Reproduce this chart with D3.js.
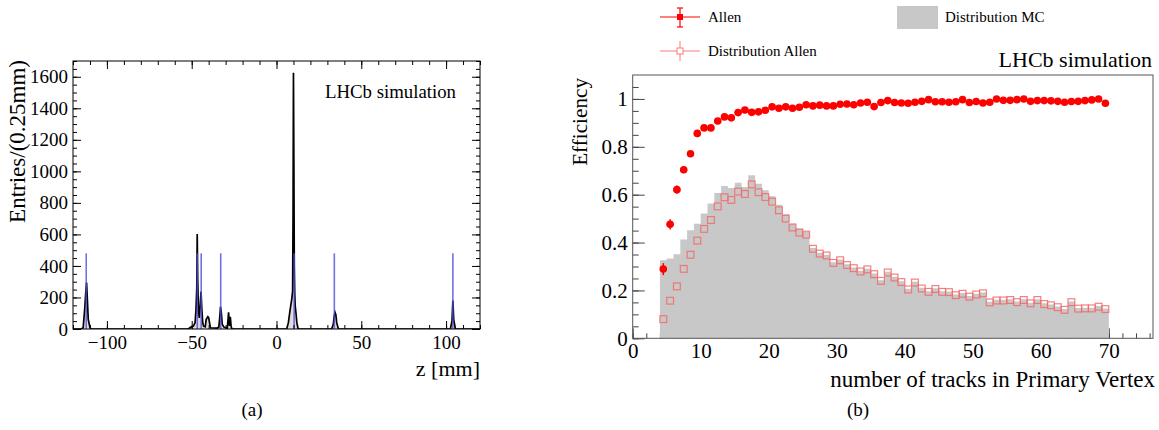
<!DOCTYPE html>
<html>
<head>
<meta charset="utf-8">
<script src="https://cdn.jsdelivr.net/npm/d3@7"></script>
<style>
  body { margin: 0; background: #fff; }
  svg text { font-family: "Liberation Serif", "Times New Roman", serif; fill: #000; }
  .axis path.domain { display: none; }
</style>
</head>
<body>
<svg id="fig" width="1159" height="430"></svg>
<script>
// ---------- panel (a): z distribution of hits ----------
// knots of the black histogram outline (z in mm, entries per 0.25 mm)
const zKnots = [-120, -115, -114, -113, -112.5, -112, -111.5, -111, -110, -109.5,
  -52, -50.5, -49, -48, -47.5, -47, -46.75, -46.5, -46, -45.5, -45, -44.5, -44, -43.5, -43,
  -42, -41.5, -40.5, -40, -39.5, -39, -35, -34, -33.5, -33, -32.5, -32, -31, -29, -28.25, -27.75,
  -27.25, -26.75, -26.25, -25.5,
  6, 7, 8, 9, 9.5, 9.75, 10, 10.25, 10.5, 10.75, 11, 11.5, 12, 12.75,
  32.5, 33.5, 34, 34.5, 35, 35.5, 36.5,
  102.5, 103.5, 104, 104.5, 105.5, 120];
const nKnots = [0, 0, 8, 140, 230, 295, 180, 60, 10, 0,
  0, 12, 18, 40, 120, 260, 602, 330, 110, 70, 150, 237, 120, 40, 18,
  14, 60, 78, 72, 40, 8, 6, 12, 70, 140, 100, 30, 12, 5, 106, 20,
  78, 15, 0, 0,
  0, 40, 120, 190, 240, 700, 1625, 1050, 400, 230, 150, 100, 40, 0,
  0, 30, 80, 105, 90, 40, 0,
  0, 50, 180, 60, 0, 0];
// reconstructed vertex positions (blue markers)
const vertexZ = [-112.2, -46.7, -44.4, -32.9, 10.4, 34.1, 104.0];
const vertexH = 480;
const zTicks = [-100, -50, 0, 50, 100];
const entTicks = [0, 200, 400, 600, 800, 1000, 1200, 1400, 1600];

// ---------- panel (b): efficiency vs number of tracks ----------
const binLow = d3.range(4, 70);   // bins of width 1, from 4 to 70
const effAllen = [0.289, 0.476, 0.621, 0.704, 0.771, 0.856, 0.879, 0.879, 0.908, 0.925,
  0.921, 0.943, 0.954, 0.944, 0.946, 0.953, 0.967, 0.961, 0.967, 0.961,
  0.965, 0.976, 0.971, 0.974, 0.971, 0.971, 0.978, 0.979, 0.976, 0.983,
  0.986, 0.968, 0.985, 0.993, 0.985, 0.983, 0.982, 0.986, 0.990, 0.997,
  0.988, 0.988, 0.986, 0.988, 0.997, 0.985, 0.989, 0.983, 0.986, 1.000,
  0.994, 0.994, 0.997, 1.000, 0.990, 0.993, 0.993, 0.992, 0.990, 0.986,
  0.989, 0.990, 0.993, 0.996, 1.000, 0.982];
// visible vertical errors of the first bins (later ones hide behind the marker)
const errAllen = [0.025, 0.021, 0.017, 0.014, 0.012, 0.010, 0.008, 0.007, 0.006, 0.006];
const distAllen = [0.080, 0.157, 0.217, 0.290, 0.349, 0.408, 0.457, 0.494, 0.551, 0.589,
  0.578, 0.613, 0.603, 0.643, 0.610, 0.590, 0.571, 0.535, 0.500, 0.463,
  0.442, 0.433, 0.374, 0.354, 0.346, 0.315, 0.326, 0.306, 0.293, 0.279,
  0.288, 0.268, 0.240, 0.275, 0.254, 0.235, 0.204, 0.233, 0.208, 0.194,
  0.206, 0.194, 0.193, 0.180, 0.186, 0.174, 0.183, 0.188, 0.150, 0.158,
  0.158, 0.160, 0.151, 0.160, 0.146, 0.160, 0.143, 0.138, 0.130, 0.119,
  0.151, 0.124, 0.125, 0.125, 0.132, 0.122];
const distMC = [0.326, 0.333, 0.351, 0.413, 0.451, 0.479, 0.521, 0.563, 0.607, 0.636,
  0.628, 0.650, 0.632, 0.681, 0.646, 0.618, 0.593, 0.558, 0.518, 0.479,
  0.458, 0.444, 0.377, 0.357, 0.349, 0.318, 0.329, 0.309, 0.296, 0.282,
  0.291, 0.271, 0.243, 0.278, 0.257, 0.238, 0.207, 0.236, 0.211, 0.197,
  0.209, 0.197, 0.196, 0.183, 0.189, 0.177, 0.186, 0.191, 0.153, 0.161,
  0.161, 0.163, 0.154, 0.163, 0.149, 0.163, 0.146, 0.141, 0.133, 0.122,
  0.154, 0.127, 0.128, 0.128, 0.135, 0.125];
const trkTicks = [0, 10, 20, 30, 40, 50, 60, 70];
const effTicks = [0, 0.2, 0.4, 0.6, 0.8, 1];

const serif = "Liberation Serif, Times New Roman, serif";
const svg = d3.select("#fig").attr("font-family", serif);

// ================= panel (a) =================
const ax = { left: 73, right: 480, top: 61, bottom: 329 };
const zx = d3.scaleLinear().domain([-120, 120]).range([ax.left, ax.right]);
const zy = d3.scaleLinear().domain([0, 1700]).range([ax.bottom, ax.top]);

const pa = svg.append("g");
pa.append("clipPath").attr("id", "clipA").append("rect")
  .attr("x", ax.left).attr("y", ax.top)
  .attr("width", ax.right - ax.left).attr("height", ax.bottom - ax.top);

const hits = zKnots.map((z, i) => [z, nKnots[i]]);
const gA = pa.append("g").attr("clip-path", "url(#clipA)");
gA.append("path")
  .datum(hits)
  .attr("fill", "#e4dcdc")
  .attr("d", d3.area().x(d => zx(d[0])).y0(zy(0)).y1(d => zy(d[1])));
gA.append("path")
  .datum(hits)
  .attr("fill", "none").attr("stroke", "#000").attr("stroke-width", 1.7)
  .attr("d", d3.line().x(d => zx(d[0])).y(d => zy(d[1])));
gA.selectAll("line.vtx")
  .data(vertexZ)
  .enter().append("line")
  .attr("class", "vtx")
  .attr("x1", d => zx(d)).attr("x2", d => zx(d))
  .attr("y1", zy(0)).attr("y2", zy(vertexH))
  .attr("stroke", "#4e4ee0").attr("stroke-opacity", 0.8).attr("stroke-width", 1.6);

// ticks on all four sides, pointing inward
function ticksA(axisFn, scale, vals, size, tf, transform) {
  const a = axisFn(scale).tickValues(vals).tickSizeInner(-size).tickSizeOuter(0);
  if (tf) a.tickFormat(tf).tickPadding(6); else a.tickFormat("");
  const g = pa.append("g").attr("class", "axis").attr("transform", transform).call(a);
  g.attr("font-family", serif);
  g.selectAll("line").attr("stroke", "#000");
  return g;
}
const zMinor = d3.range(-120, 121, 10);
const eMinor = d3.range(0, 1701, 50);
const gBx = ticksA(d3.axisBottom, zx, zTicks, 8, d3.format("d"), `translate(0,${ax.bottom})`);
ticksA(d3.axisBottom, zx, zMinor, 4, null, `translate(0,${ax.bottom})`);
ticksA(d3.axisTop, zx, zTicks, 8, null, `translate(0,${ax.top})`);
ticksA(d3.axisTop, zx, zMinor, 4, null, `translate(0,${ax.top})`);
const gLy = ticksA(d3.axisLeft, zy, entTicks, 8, d3.format("d"), `translate(${ax.left},0)`);
ticksA(d3.axisLeft, zy, eMinor, 4, null, `translate(${ax.left},0)`);
ticksA(d3.axisRight, zy, entTicks, 8, null, `translate(${ax.right},0)`);
ticksA(d3.axisRight, zy, eMinor, 4, null, `translate(${ax.right},0)`);
gBx.selectAll("text").style("font-size", "19px").attr("dy", "0.74em");
gLy.selectAll("text").style("font-size", "19px").attr("x", -5);

pa.append("rect")
  .attr("x", ax.left).attr("y", ax.top)
  .attr("width", ax.right - ax.left).attr("height", ax.bottom - ax.top)
  .attr("fill", "none").attr("stroke", "#000").attr("stroke-width", 1);

pa.append("text").attr("x", 325).attr("y", 98).style("font-size", "18.8px").text("LHCb simulation");
pa.append("text").attr("x", ax.right).attr("y", 376).attr("text-anchor", "end")
  .style("font-size", "22px").text("z [mm]");
pa.append("text").attr("transform", "translate(25,60) rotate(-90)").attr("text-anchor", "end")
  .style("font-size", "23px").text("Entries/(0.25mm)");
pa.append("text").attr("x", 252).attr("y", 416).attr("text-anchor", "middle")
  .style("font-size", "19px").text("(a)");

// ================= panel (b) =================
const bx = { left: 632.7, right: 1153, top: 75, bottom: 338.3 };
const ex = d3.scaleLinear().domain([0, 76.5]).range([bx.left, bx.right]);
const ey = d3.scaleLinear().domain([0, 1.1]).range([bx.bottom, bx.top]);
const pb = svg.append("g");

function ticksB(axisFn, scale, vals, size, tf, transform) {
  const a = axisFn(scale).tickValues(vals).tickSizeInner(-size).tickSizeOuter(0);
  if (tf) a.tickFormat(tf).tickPadding(6); else a.tickFormat("");
  const g = pb.append("g").attr("class", "axis").attr("transform", transform).call(a);
  g.attr("font-family", serif);
  g.selectAll("line").attr("stroke", "#444");
  return g;
}
const gEx = ticksB(d3.axisBottom, ex, trkTicks, 10, d3.format("d"), `translate(0,${bx.bottom})`);
ticksB(d3.axisBottom, ex, d3.range(0, 77, 2), 5, null, `translate(0,${bx.bottom})`);
const gEy = ticksB(d3.axisLeft, ey, effTicks, 12, d3.format("~g"), `translate(${bx.left},0)`);
ticksB(d3.axisLeft, ey, d3.range(0, 1.1, 0.05), 6, null, `translate(${bx.left},0)`);
gEx.selectAll("text").style("font-size", "21px").attr("y", 4).attr("dy", "0.74em");
gEy.selectAll("text").style("font-size", "21px").attr("x", -5);

// MC distribution (grey step histogram)
const mcSteps = binLow.map((c, i) => [c, distMC[i]]);
mcSteps.push([70, distMC[distMC.length - 1]]);
pb.append("path")
  .datum(mcSteps)
  .attr("fill", "#c8c8c8")
  .attr("d", d3.area().curve(d3.curveStepAfter)
    .x(d => ex(d[0])).y0(ey(0)).y1(d => ey(d[1])));

// Allen distribution: open squares
pb.selectAll("rect.dist")
  .data(binLow)
  .enter().append("rect")
  .attr("class", "dist")
  .attr("x", (c) => ex(c + 0.5) - 3.4)
  .attr("y", (c, i) => ey(distAllen[i]) - 3.4)
  .attr("width", 6.8).attr("height", 6.8)
  .attr("fill", "none").attr("stroke", "#f26a6a").attr("stroke-opacity", 0.85)
  .attr("stroke-width", 1.2);

// Allen efficiency: horizontal bin bars, error bars, filled markers
pb.selectAll("line.hbar")
  .data(binLow)
  .enter().append("line")
  .attr("class", "hbar")
  .attr("x1", c => ex(c)).attr("x2", c => ex(c + 1))
  .attr("y1", (c, i) => ey(effAllen[i])).attr("y2", (c, i) => ey(effAllen[i]))
  .attr("stroke", "#ff0000").attr("stroke-width", 2.2);
pb.selectAll("line.vbar")
  .data(errAllen)
  .enter().append("line")
  .attr("class", "vbar")
  .attr("x1", (e, i) => ex(binLow[i] + 0.5)).attr("x2", (e, i) => ex(binLow[i] + 0.5))
  .attr("y1", (e, i) => ey(effAllen[i] - e)).attr("y2", (e, i) => ey(effAllen[i] + e))
  .attr("stroke", "#ff0000").attr("stroke-width", 1.5);
pb.selectAll("circle.eff")
  .data(binLow)
  .enter().append("circle")
  .attr("class", "eff")
  .attr("cx", c => ex(c + 0.5))
  .attr("cy", (c, i) => ey(effAllen[i]))
  .attr("r", 3.8)
  .attr("fill", "#ff0000");

pb.append("rect")
  .attr("x", bx.left).attr("y", bx.top)
  .attr("width", bx.right - bx.left).attr("height", bx.bottom - bx.top)
  .attr("fill", "none").attr("stroke", "#555").attr("stroke-width", 1);

pb.append("text").attr("x", 1152).attr("y", 67).attr("text-anchor", "end")
  .style("font-size", "22px").text("LHCb simulation");
pb.append("text").attr("x", 1155).attr("y", 387).attr("text-anchor", "end")
  .style("font-size", "23px").text("number of tracks in Primary Vertex");
pb.append("text").attr("transform", "translate(587,78) rotate(-90)").attr("text-anchor", "end")
  .style("font-size", "21.2px").text("Efficiency");
pb.append("text").attr("x", 858).attr("y", 416).attr("text-anchor", "middle")
  .style("font-size", "19px").text("(b)");

// legend
const lg = pb.append("g");
// Allen
lg.append("line").attr("x1", 660).attr("x2", 700).attr("y1", 17).attr("y2", 17)
  .attr("stroke", "#ff0000").attr("stroke-width", 1.2);
lg.append("line").attr("x1", 680).attr("x2", 680).attr("y1", 8).attr("y2", 27)
  .attr("stroke", "#ff0000").attr("stroke-width", 1.2);
lg.append("line").attr("x1", 677).attr("x2", 683).attr("y1", 8).attr("y2", 8)
  .attr("stroke", "#ff0000").attr("stroke-width", 1.2);
lg.append("line").attr("x1", 677).attr("x2", 683).attr("y1", 27).attr("y2", 27)
  .attr("stroke", "#ff0000").attr("stroke-width", 1.2);
lg.append("rect").attr("x", 677).attr("y", 14).attr("width", 6).attr("height", 6).attr("fill", "#ff0000");
lg.append("text").attr("x", 708).attr("y", 22).style("font-size", "15px").text("Allen");
// Distribution Allen
lg.append("line").attr("x1", 660).attr("x2", 700).attr("y1", 51).attr("y2", 51)
  .attr("stroke", "#ff7a7a").attr("stroke-width", 1);
lg.append("line").attr("x1", 680).attr("x2", 680).attr("y1", 41).attr("y2", 61)
  .attr("stroke", "#ff7a7a").attr("stroke-width", 1);
lg.append("rect").attr("x", 677).attr("y", 48).attr("width", 6).attr("height", 6)
  .attr("fill", "#fff").attr("stroke", "#ff7a7a").attr("stroke-width", 1);
lg.append("text").attr("x", 708).attr("y", 56).style("font-size", "15px").text("Distribution Allen");
// Distribution MC
lg.append("rect").attr("x", 897).attr("y", 6).attr("width", 41).attr("height", 23).attr("fill", "#c8c8c8");
lg.append("text").attr("x", 945).attr("y", 22).style("font-size", "15px").text("Distribution MC");
</script>
</body>
</html>
